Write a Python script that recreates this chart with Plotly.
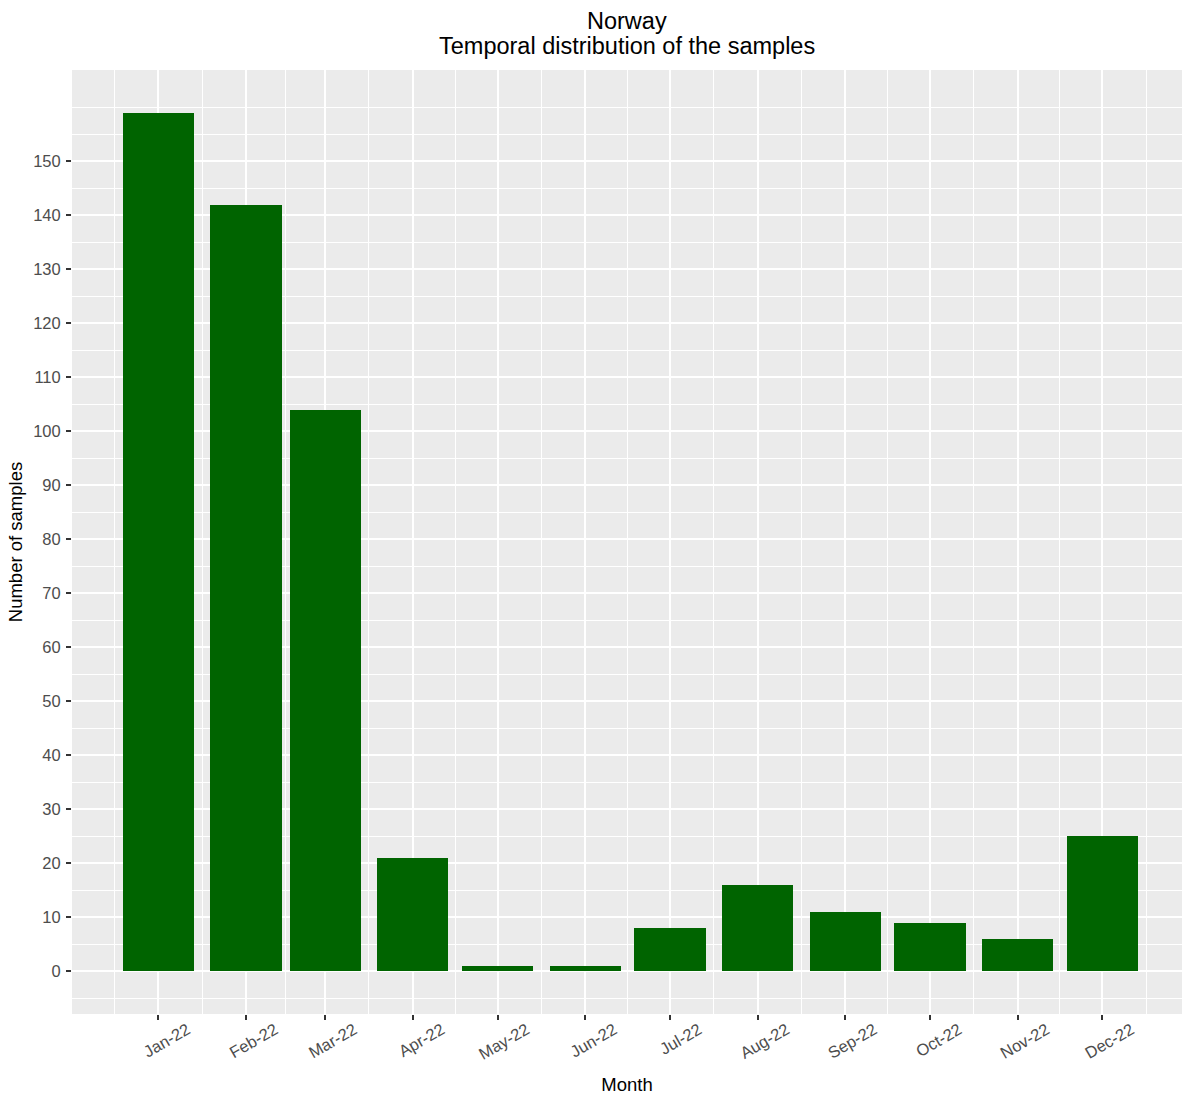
import pandas as pd
import plotly.graph_objects as go

# ---- data ----
months = ["2022-01-01", "2022-02-01", "2022-03-01", "2022-04-01", "2022-05-01", "2022-06-01",
          "2022-07-01", "2022-08-01", "2022-09-01", "2022-10-01", "2022-11-01", "2022-12-01"]
month_labels = ["Jan-22", "Feb-22", "Mar-22", "Apr-22", "May-22", "Jun-22",
                "Jul-22", "Aug-22", "Sep-22", "Oct-22", "Nov-22", "Dec-22"]
samples = [159, 142, 104, 21, 1, 1, 8, 16, 11, 9, 6, 25]
y_ticks = list(range(0, 151, 10))
title_line1 = "Norway"
title_line2 = "Temporal distribution of the samples"

# ---- derived geometry (ggplot-like) ----
dates = pd.to_datetime(months)
day = pd.Timedelta(days=1)
bar_width_days = 0.9 * 28
bar_width_ms = bar_width_days * 86400000

span_days = (dates[-1] - dates[0]).days + bar_width_days
x_left = dates[0] - (bar_width_days / 2 + 0.05 * span_days) * day
x_right = dates[-1] + 28.2 * day

ext = [dates[0] - pd.DateOffset(months=1)] + list(dates) + [dates[-1] + pd.DateOffset(months=1)]
x_minor = [ext[i] + (ext[i + 1] - ext[i]) / 2 for i in range(len(ext) - 1)]

y_max = max(samples)
y_range = [-0.05 * y_max, 1.05 * y_max]
y_minor = [-5] + [v + 5 for v in y_ticks] + [160]

FONT = "Liberation Sans, Arial, sans-serif"

fig = go.Figure()
fig.add_trace(go.Bar(
    x=dates, y=samples, width=bar_width_ms,
    marker=dict(color="#006400", line=dict(width=0)),
    showlegend=False,
))

fig.update_layout(
    width=1182, height=1095,
    margin=dict(l=72, r=0, t=70, b=76),
    paper_bgcolor="white",
    plot_bgcolor="#EBEBEB",
    font=dict(family=FONT),
    bargap=0,
)

fig.add_annotation(text=title_line1, xref="paper", yref="paper", x=0.5, y=1,
                   xanchor="center", yanchor="bottom", yshift=34, showarrow=False,
                   font=dict(size=23.5, color="black"))
fig.add_annotation(text=title_line2, xref="paper", yref="paper", x=0.5, y=1,
                   xanchor="center", yanchor="bottom", yshift=9, showarrow=False,
                   font=dict(size=23.5, color="black"))

fig.update_xaxes(
    type="date",
    range=[x_left, x_right],
    tickmode="array", tickvals=dates, ticktext=month_labels,
    tickangle=-30,
    ticks="outside", ticklen=5, tickwidth=1.5, tickcolor="#333333",
    tickfont=dict(size=16.5, color="#4D4D4D"),
    ticklabelshift=29,
    ticklabelstandoff=-6,
    showgrid=True, gridcolor="white", gridwidth=1.6,
    minor=dict(tickmode="array", tickvals=x_minor, showgrid=True,
               gridcolor="white", gridwidth=1.0, ticks=""),
    zeroline=False, showline=False,
    title=dict(text="Month", font=dict(size=18.5, color="black"), standoff=19),
)

fig.update_yaxes(
    range=y_range,
    tickmode="array", tickvals=y_ticks,
    ticks="outside", ticklen=5, tickwidth=1.5, tickcolor="#333333",
    tickfont=dict(size=16.5, color="#4D4D4D"),
    ticklabelstandoff=2,
    showgrid=True, gridcolor="white", gridwidth=1.6,
    minor=dict(tickmode="array", tickvals=y_minor, showgrid=True,
               gridcolor="white", gridwidth=1.0, ticks=""),
    zeroline=False, showline=False,
    title=dict(text="Number of samples", font=dict(size=18.5, color="black"), standoff=5),
)

fig.write_html("out.html",
               config={"displayModeBar": False},
               post_script="document.body.style.margin='0';document.body.style.overflow='hidden';")
